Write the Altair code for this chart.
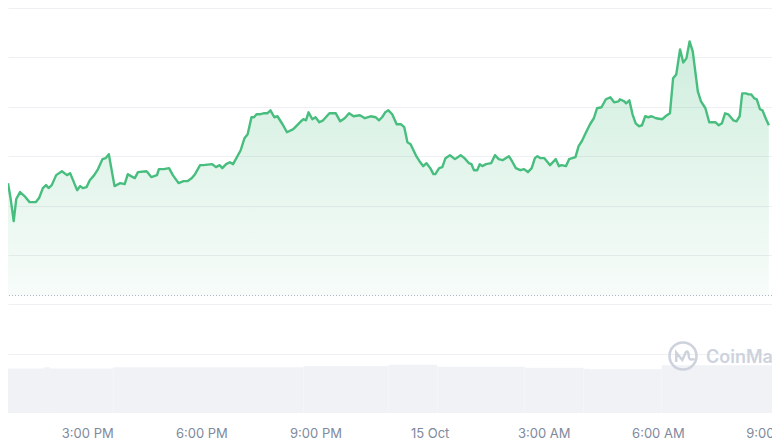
import altair as alt
import pandas as pd

# ---- data ----
# minutes after 12:55 PM (14 Oct) and price
minutes = [0, 4, 9, 13, 19, 26, 34, 44, 49, 55,
           60, 64, 69, 76, 85, 93, 98, 109, 114, 118,
           124, 129, 136, 142, 149, 154, 159, 168, 177, 184,
           189, 194, 200, 205, 218, 220, 226, 235, 238, 246,
           254, 260, 269, 277, 283, 290, 295, 303, 308, 322,
           328, 334, 338, 344, 350, 355, 367, 373, 378, 384,
           388, 392, 397, 403, 409, 414, 420, 425, 433, 440,
           450, 462, 466, 470, 474, 480, 485, 491, 497, 507,
           513, 517, 524, 531, 538, 545, 555, 563, 572, 580,
           585, 590, 595, 600, 606, 613, 620, 625, 630, 635,
           644, 649, 655, 660, 666, 671, 674, 680, 685, 690,
           697, 705, 714, 720, 727, 731, 735, 740, 744, 748,
           754, 762, 768, 774, 780, 790, 795, 801, 808, 814,
           820, 826, 831, 835, 840, 846, 855, 864, 869, 873,
           880, 885, 895, 900, 905, 911, 918, 924, 929, 936,
           943, 950, 956, 963, 965, 972, 975, 980, 985, 990,
           995, 1000, 1005, 1010, 1015, 1022, 1032, 1037, 1044, 1049,
           1054, 1060, 1065, 1070, 1075, 1080, 1088, 1093, 1100, 1106,
           1112, 1116, 1121, 1126, 1131, 1136, 1144, 1149, 1154, 1158,
           1164, 1168, 1172, 1177, 1181, 1186, 1190, 1195, 1200]

price = [0.61727, 0.61576, 0.61343, 0.61566, 0.61636, 0.61596, 0.61535, 0.61535, 0.61576, 0.61677,
         0.61707, 0.61677, 0.61707, 0.61808, 0.61848, 0.61808, 0.61828, 0.61656, 0.61697, 0.61677,
         0.61687, 0.61757, 0.61808, 0.61869, 0.61970, 0.61980, 0.62020, 0.61697, 0.61727, 0.61717,
         0.61818, 0.61798, 0.61778, 0.61838, 0.61848, 0.61838, 0.61788, 0.61808, 0.61869, 0.61869,
         0.61879, 0.61808, 0.61727, 0.61747, 0.61747, 0.61778, 0.61818, 0.61909, 0.61909, 0.61919,
         0.61889, 0.61909, 0.61879, 0.61919, 0.61939, 0.61919, 0.62060, 0.62182, 0.62222, 0.62394,
         0.62394, 0.62424, 0.62424, 0.62434, 0.62434, 0.62464, 0.62394, 0.62404, 0.62323, 0.62242,
         0.62273, 0.62353, 0.62374, 0.62363, 0.62444, 0.62374, 0.62394, 0.62343, 0.62363, 0.62434,
         0.62434, 0.62434, 0.62353, 0.62384, 0.62434, 0.62404, 0.62414, 0.62384, 0.62404, 0.62394,
         0.62363, 0.62394, 0.62444, 0.62464, 0.62424, 0.62323, 0.62323, 0.62293, 0.62141, 0.62121,
         0.62000, 0.61949, 0.61899, 0.61929, 0.61879, 0.61818, 0.61818, 0.61879, 0.61889, 0.61980,
         0.62010, 0.61970, 0.62010, 0.61980, 0.61929, 0.61919, 0.61858, 0.61858, 0.61919, 0.61899,
         0.61919, 0.61929, 0.62010, 0.61970, 0.61959, 0.62000, 0.61949, 0.61879, 0.61858, 0.61869,
         0.61838, 0.61879, 0.61980, 0.62000, 0.61980, 0.61980, 0.61909, 0.61970, 0.61899, 0.61909,
         0.61899, 0.61970, 0.61990, 0.62101, 0.62151, 0.62232, 0.62323, 0.62384, 0.62485, 0.62495,
         0.62576, 0.62596, 0.62545, 0.62555, 0.62576, 0.62555, 0.62535, 0.62565, 0.62424, 0.62333,
         0.62303, 0.62313, 0.62404, 0.62394, 0.62404, 0.62384, 0.62374, 0.62404, 0.62434, 0.62788,
         0.62828, 0.63081, 0.62949, 0.62990, 0.63161, 0.63060, 0.62656, 0.62555, 0.62485, 0.62343,
         0.62343, 0.62343, 0.62313, 0.62333, 0.62434, 0.62424, 0.62363, 0.62353, 0.62404, 0.62636,
         0.62636, 0.62626, 0.62626, 0.62586, 0.62576, 0.62475, 0.62464, 0.62384, 0.62313]

baseline_price = 0.6059   # dotted reference line

# volume segments (minutes after 12:55 PM) and volume value
vol_start = [0, 57, 66, 166, 466, 600, 677, 815, 908, 918, 1031]
vol_end = [57, 66, 166, 466, 600, 677, 815, 908, 918, 1031, 1205]
volume = [11.0, 11.3, 11.0, 11.3, 11.6, 11.9, 11.4, 11.2, 10.9, 10.8, 11.8]

grid_prices = [0.600, 0.605, 0.610, 0.615, 0.620, 0.625, 0.630, 0.635]

assert len(minutes) == len(price)

start = pd.Timestamp("2023-10-14 12:55:00")


def iso(m):
    return (start + pd.Timedelta(minutes=m)).strftime("%Y-%m-%dT%H:%M:%SZ")


price_df = pd.DataFrame({
    "time": [iso(m) for m in minutes],
    "price": price,
    "base": [baseline_price] * len(price),
})
vol_df = pd.DataFrame({
    "t0": [iso(m) for m in vol_start],
    "t1": [iso(m) for m in vol_end],
    "vol": volume,
    "zero": [0.0] * len(volume),
})
rule_df = pd.DataFrame({"base": [baseline_price]})
wm_df = pd.DataFrame({"label": ["CoinMarketCap"]})

# ---- scales / axes ----
xs = alt.Scale(
    type="utc",
    domain=[alt.DateTime(year=2023, month=10, date=14, hours=12, minutes=55, utc=True),
            alt.DateTime(year=2023, month=10, date=15, hours=9, minutes=0, utc=True)],
    nice=False,
)
tick_vals = [
    alt.DateTime(year=2023, month=10, date=14, hours=15, utc=True),
    alt.DateTime(year=2023, month=10, date=14, hours=18, utc=True),
    alt.DateTime(year=2023, month=10, date=14, hours=21, utc=True),
    alt.DateTime(year=2023, month=10, date=15, hours=0, utc=True),
    alt.DateTime(year=2023, month=10, date=15, hours=3, utc=True),
    alt.DateTime(year=2023, month=10, date=15, hours=6, utc=True),
    alt.DateTime(year=2023, month=10, date=15, hours=9, utc=True),
]
xaxis = alt.Axis(
    values=tick_vals,
    labelExpr="utchours(datum.value) == 0 ? utcFormat(datum.value, '%-d %b') : utcFormat(datum.value, '%-I:%M %p')",
    title=None, grid=False, ticks=False, tickSize=0, domain=False,
    labelFont="Inter", labelFontSize=13, labelColor="#808a9d",
    labelPadding=14, labelOverlap=False, labelFlush=False,
)
ys = alt.Scale(domain=[0.594, 0.635], nice=False, zero=False)
yaxis = alt.Axis(values=grid_prices, labels=False, ticks=False, domain=False,
                 grid=True, gridColor="#eef0f3", gridWidth=1, title=None)
vs = alt.Scale(domain=[0, 100], nice=False, zero=True)

gradient = alt.Gradient(
    gradient="linear",
    stops=[
        alt.GradientStop(color="rgba(60,184,120,0.25)", offset=0),
        alt.GradientStop(color="rgba(60,184,120,0.18)", offset=0.3),
        alt.GradientStop(color="rgba(60,184,120,0.12)", offset=0.6),
        alt.GradientStop(color="rgba(60,184,120,0.04)", offset=1),
    ],
    x1=1, x2=1, y1=0, y2=1,
)

vol_layer = alt.Chart(vol_df).mark_rect(color="#f0f2f6").encode(
    x=alt.X("t0:T", scale=xs, axis=xaxis),
    x2="t1:T",
    y=alt.Y("vol:Q", scale=vs, axis=None),
    y2="zero:Q",
)

area = alt.Chart(price_df).mark_area(color=gradient).encode(
    x=alt.X("time:T", scale=xs, axis=xaxis),
    y=alt.Y("price:Q", scale=ys, axis=yaxis),
    y2="base:Q",
)
rule = alt.Chart(rule_df).mark_rule(color="#a9b1c2", strokeWidth=1, strokeDash=[1, 2]).encode(
    y=alt.Y("base:Q", scale=ys, axis=yaxis),
)
line = alt.Chart(price_df).mark_line(color="#47be7e", strokeWidth=2.4, strokeJoin="round").encode(
    x=alt.X("time:T", scale=xs, axis=xaxis),
    y=alt.Y("price:Q", scale=ys, axis=yaxis),
)
price_layers = alt.layer(area, rule, line)

wm_color = "#cdd2dd"
wm_text = alt.Chart(wm_df).mark_text(
    align="left", baseline="alphabetic", font="Inter", fontSize=18, fontWeight=600, color=wm_color
).encode(x=alt.value(698), y=alt.value(355), text="label:N")
wm_ring = alt.Chart(wm_df).mark_point(
    shape="circle", size=729, filled=False, strokeWidth=2.6, color=wm_color, opacity=1
).encode(x=alt.value(675), y=alt.value(348))
wm_m = alt.Chart(wm_df).mark_point(
    shape="M -0.5 0.45 L -0.5 -0.25 L -0.05 0.3 L 0.2 -0.25 Q 0.3 -0.45 0.4 -0.2 L 0.45 0.15 Q 0.55 0.35 0.85 0.2",
    size=729, filled=False, strokeWidth=2.4, color=wm_color, opacity=1
).encode(x=alt.value(675), y=alt.value(348))

chart = alt.layer(vol_layer, price_layers, wm_ring, wm_m, wm_text).resolve_scale(
    y="independent"
).properties(
    width=764, height=405,
    autosize=alt.AutoSizeParams(type="none"),
    padding={"left": 0, "top": 0, "right": 0, "bottom": 28},
    background="white",
).configure_view(strokeWidth=0)

chart.save("out.html", embed_options={"renderer": "svg", "actions": False})
